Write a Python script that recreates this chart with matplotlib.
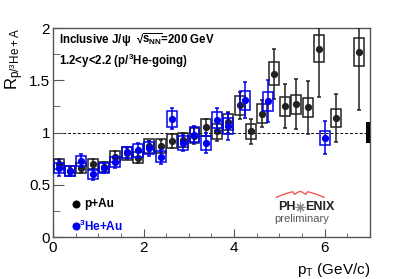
import numpy as np
import matplotlib
matplotlib.use("Agg")
import matplotlib.pyplot as plt
from matplotlib.patches import Rectangle
import matplotlib.ticker as mticker

plt.rcParams['font.family'] = ['Liberation Sans', 'DejaVu Sans']
plt.rcParams['mathtext.fontset'] = 'custom'
plt.rcParams['mathtext.rm'] = 'Liberation Sans'
plt.rcParams['mathtext.it'] = 'Liberation Sans:italic'
plt.rcParams['mathtext.bf'] = 'Liberation Sans:bold'

# p+Au data
pau_pt = [0.125, 0.375, 0.625, 0.875, 1.125, 1.375, 1.625, 1.875, 2.125, 2.375,
          2.625, 2.875, 3.125, 3.375, 3.625, 3.875, 4.125, 4.375, 4.625, 4.875,
          5.125, 5.375, 5.625, 5.875, 6.25, 6.75]
pau_r = [0.70, 0.63, 0.66, 0.70, 0.67, 0.77, 0.80, 0.76, 0.87, 0.87,
         0.92, 0.93, 0.97, 1.05, 1.01, 1.10, 1.26, 1.01, 1.18, 1.56,
         1.25, 1.27, 1.24, 1.80, 1.14, 1.77]
pau_stat = [0.05, 0.04, 0.05, 0.05, 0.05, 0.05, 0.05, 0.05, 0.05, 0.06,
            0.07, 0.07, 0.08, 0.08, 0.09, 0.10, 0.13, 0.12, 0.13, 0.24,
            0.21, 0.24, 0.25, 0.46, 0.23, 0.55]
pau_sys = [0.05, 0.045, 0.05, 0.05, 0.05, 0.055, 0.06, 0.055, 0.065, 0.065,
           0.07, 0.07, 0.07, 0.08, 0.075, 0.08, 0.09, 0.075, 0.09, 0.11,
           0.09, 0.09, 0.09, 0.13, 0.085, 0.13]

# 3He+Au data
heau_pt = [0.125, 0.375, 0.625, 0.875, 1.125, 1.375, 1.625, 1.875, 2.125, 2.375,
           2.625, 2.875, 3.125, 3.375, 3.625, 3.875, 4.25, 4.75, 6.0]
heau_r = [0.66, 0.63, 0.73, 0.60, 0.66, 0.72, 0.81, 0.83, 0.85, 0.77,
          1.13, 0.90, 0.98, 0.90, 1.12, 1.06, 1.31, 1.30, 0.95]
heau_stat = [0.08, 0.05, 0.06, 0.05, 0.05, 0.06, 0.05, 0.07, 0.07, 0.07,
             0.10, 0.08, 0.08, 0.10, 0.11, 0.13, 0.17, 0.20, 0.16]
heau_sys = [0.05, 0.045, 0.05, 0.045, 0.05, 0.05, 0.055, 0.06, 0.06, 0.055,
            0.075, 0.065, 0.07, 0.065, 0.08, 0.075, 0.09, 0.09, 0.065]

global_sys = 0.10

fig = plt.figure(figsize=(4.11, 2.79), dpi=100)
ax = fig.add_axes([0.129, 0.1505, 0.771, 0.7491])
ax.set_xlim(0, 7)
ax.set_ylim(0, 2)

boxw = 0.22
blk = '#222222'
blue = '#0000ee'

def draw(pts, vals, stat, sys, color, z):
    for x, y, s in zip(pts, vals, sys):
        ax.add_patch(Rectangle((x - boxw / 2, y - s), boxw, 2 * s, fill=False,
                               edgecolor=color, lw=1.1, zorder=z))
    ax.errorbar(pts, vals, yerr=stat, fmt='o', color=color, ms=4.2,
                elinewidth=1.1, capsize=1.2, capthick=1.1, zorder=z + 1,
                clip_on=True)

ax.axhline(1.0, color='black', lw=0.7, ls=(0, (3, 2)), zorder=1)
draw(pau_pt, pau_r, pau_stat, pau_sys, blk, 3)
draw(heau_pt, heau_r, heau_stat, heau_sys, blue, 5)

ax.add_patch(Rectangle((6.91, 1 - global_sys), 0.09, 2 * global_sys,
                       facecolor='black', edgecolor='none', zorder=6, clip_on=False))

for sp in ax.spines.values():
    sp.set_color('#555555')
    sp.set_linewidth(1.0)

ax.xaxis.set_major_locator(mticker.MultipleLocator(2))
ax.xaxis.set_minor_locator(mticker.MultipleLocator(0.5))
ax.yaxis.set_major_locator(mticker.MultipleLocator(0.5))
ax.yaxis.set_minor_locator(mticker.MultipleLocator(0.25))
ax.xaxis.set_major_formatter(mticker.FuncFormatter(lambda v, p: f"{v:g}"))
ax.yaxis.set_major_formatter(mticker.FuncFormatter(lambda v, p: f"{v:g}"))
ax.tick_params(which='both', direction='in', colors='#555555', labelcolor='black',
               labelsize=11, top=False, right=False)
ax.tick_params(axis='x', which='major', length=6, pad=3)
ax.tick_params(axis='x', which='minor', length=3)
ax.tick_params(axis='y', which='major', length=8, pad=2)
ax.tick_params(axis='y', which='minor', length=5)

ax.set_xlabel(r'p$_\mathregular{T}$ (GeV/c)', fontsize=11, ha='right', x=1.0, labelpad=4)
ax.set_ylabel(r'R$_\mathregular{p/^3He+A}$', fontsize=12, ha='right', y=1.0, labelpad=2)

ax.text(0.02, 0.945,
        'Inclusive J/\u03c8  \u221a' + r'$\overline{\mathbf{s}_{\mathbf{NN}}}$' + '=200 GeV',
        transform=ax.transAxes, fontsize=8.3, fontweight='bold', va='center', ha='left')
ax.text(0.02, 0.845, r'1.2<y<2.2 (p/$^\mathbf{3}$He-going)',
        transform=ax.transAxes, fontsize=8.3, fontweight='bold', va='center', ha='left')

# legend
ax.plot([0.074], [0.158], 'o', color='black', ms=4.8, transform=ax.transAxes, clip_on=False)
ax.text(0.098, 0.158, 'p+Au', transform=ax.transAxes, fontsize=8.5, fontweight='bold',
        va='center', ha='left', color='black')
ax.plot([0.074], [0.053], 'o', color=blue, ms=4.8, transform=ax.transAxes, clip_on=False)
ax.text(0.083, 0.053, r'$^\mathbf{3}$He+Au', transform=ax.transAxes, fontsize=8.5,
        fontweight='bold', va='center', ha='left', color=blue)

# PHENIX logo
ax.text(0.765, 0.145, 'PH', transform=ax.transAxes, fontsize=9, fontweight='bold',
        ha='right', va='center', color='#222222')
ax.plot([0.78], [0.145], marker=(8, 2, 0), ms=7, mew=0.8, color='#888888',
        transform=ax.transAxes)
ax.text(0.795, 0.145, 'ENIX', transform=ax.transAxes, fontsize=9, fontweight='bold',
        ha='left', va='center', color='#222222')
ax.text(0.785, 0.085, 'preliminary', transform=ax.transAxes, fontsize=8,
        ha='center', va='center', color='#555555')
t = np.linspace(0, 1, 30)
arcx = 0.705 + 0.15 * t
arcy = 0.19 + 0.03 * np.sin(np.pi * t) - 0.02 * np.abs(np.sin(2 * np.pi * t)) * (t > 0.35) * (t < 0.65)
ax.plot(arcx, arcy, color='#e83030', lw=1.0, transform=ax.transAxes, alpha=0.8)

fig.savefig('out.png', dpi=100)
